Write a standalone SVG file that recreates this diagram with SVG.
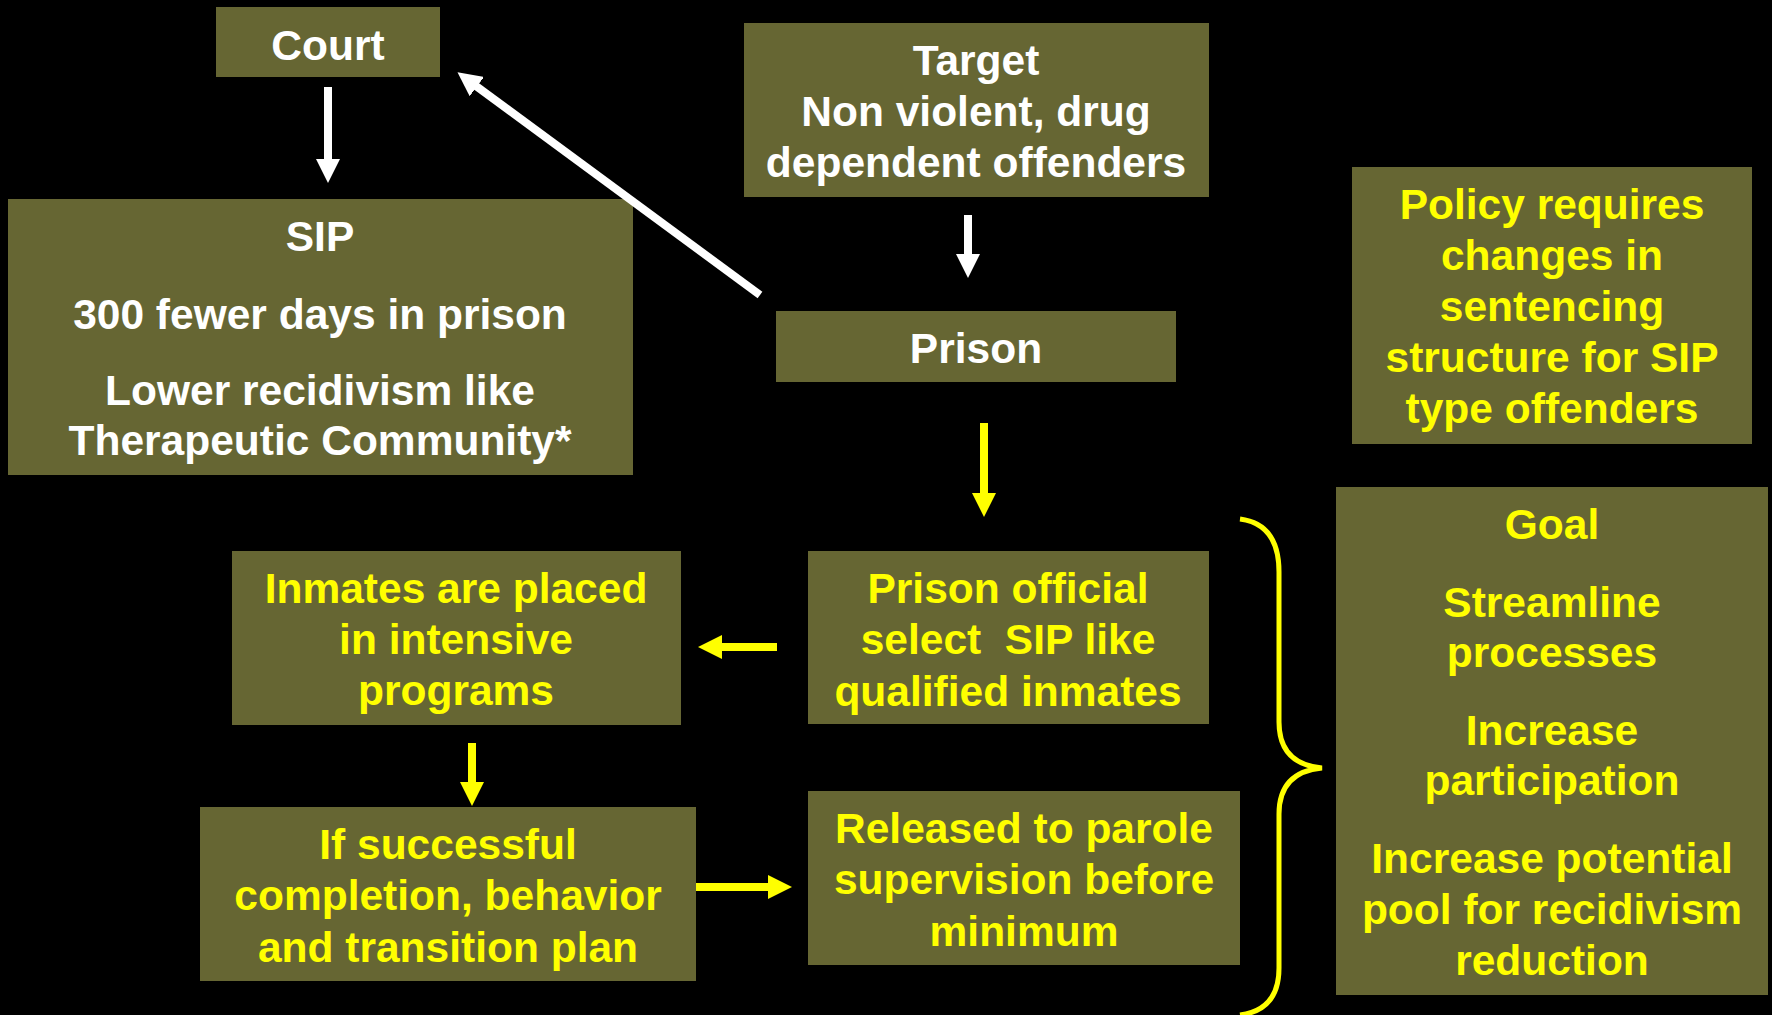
<svg xmlns="http://www.w3.org/2000/svg" width="1772" height="1015" viewBox="0 0 1772 1015">
<defs>
<style>
.box{fill:#666633}
.tw{font-family:"Liberation Sans",Arial,sans-serif;font-weight:bold;font-size:42.5px;fill:#ffffff;text-anchor:middle}
.ty{font-family:"Liberation Sans",Arial,sans-serif;font-weight:bold;font-size:42.5px;fill:#ffff00;text-anchor:middle}
.aw{stroke:#ffffff;stroke-width:8;fill:none;marker-end:url(#hw)}
.ay{stroke:#ffff00;stroke-width:8;fill:none;marker-end:url(#hy)}
</style>
<marker id="hw" markerUnits="userSpaceOnUse" markerWidth="24" markerHeight="24" refX="1" refY="12" orient="auto" viewBox="0 0 24 24"><path d="M0,0 L24,12 L0,24 Z" fill="#ffffff"/></marker>
<marker id="hy" markerUnits="userSpaceOnUse" markerWidth="24" markerHeight="24" refX="1" refY="12" orient="auto" viewBox="0 0 24 24"><path d="M0,0 L24,12 L0,24 Z" fill="#ffff00"/></marker>
</defs>
<rect width="1772" height="1015" fill="#000000"/>

<g id="court">
<rect class="box" x="216" y="7" width="224" height="70"/>
<text class="tw" x="328" y="60">Court</text>
</g>

<g id="sip">
<rect class="box" x="8" y="199" width="625" height="276"/>
<text class="tw" x="320" y="251">SIP</text>
<text class="tw" x="320" y="329">300 fewer days in prison</text>
<text class="tw" x="320" y="405">Lower recidivism like</text>
<text class="tw" x="320" y="455">Therapeutic Community*</text>
</g>

<g id="target">
<rect class="box" x="744" y="23" width="465" height="174"/>
<text class="tw" x="976" y="75">Target</text>
<text class="tw" x="976" y="126">Non violent, drug</text>
<text class="tw" x="976" y="177">dependent offenders</text>
</g>

<g id="prison">
<rect class="box" x="776" y="311" width="400" height="71"/>
<text class="tw" x="976" y="363">Prison</text>
</g>

<g id="policy">
<rect class="box" x="1352" y="167" width="400" height="277"/>
<text class="ty" x="1552" y="219">Policy requires</text>
<text class="ty" x="1552" y="270">changes in</text>
<text class="ty" x="1552" y="321">sentencing</text>
<text class="ty" x="1552" y="372">structure for SIP</text>
<text class="ty" x="1552" y="423">type offenders</text>
</g>

<g id="official">
<rect class="box" x="808" y="551" width="401" height="173"/>
<text class="ty" x="1008" y="603">Prison official</text>
<text class="ty" x="1008" y="654" style="white-space:pre">select  SIP like</text>
<text class="ty" x="1008" y="706">qualified inmates</text>
</g>

<g id="inmates">
<rect class="box" x="232" y="551" width="449" height="174"/>
<text class="ty" x="456" y="603">Inmates are placed</text>
<text class="ty" x="456" y="654">in intensive</text>
<text class="ty" x="456" y="705">programs</text>
</g>

<g id="successful">
<rect class="box" x="200" y="807" width="496" height="174"/>
<text class="ty" x="448" y="859">If successful</text>
<text class="ty" x="448" y="910">completion, behavior</text>
<text class="ty" x="448" y="962">and transition plan</text>
</g>

<g id="released">
<rect class="box" x="808" y="791" width="432" height="174"/>
<text class="ty" x="1024" y="843">Released to parole</text>
<text class="ty" x="1024" y="894">supervision before</text>
<text class="ty" x="1024" y="946">minimum</text>
</g>

<g id="goal">
<rect class="box" x="1336" y="487" width="432" height="508"/>
<text class="ty" x="1552" y="539">Goal</text>
<text class="ty" x="1552" y="617">Streamline</text>
<text class="ty" x="1552" y="667">processes</text>
<text class="ty" x="1552" y="745">Increase</text>
<text class="ty" x="1552" y="795">participation</text>
<text class="ty" x="1552" y="873">Increase potential</text>
<text class="ty" x="1552" y="924">pool for recidivism</text>
<text class="ty" x="1552" y="975">reduction</text>
</g>

<g id="connectors">
<line class="aw" x1="328" y1="87" x2="328" y2="160"/>
<line class="aw" x1="760" y1="295" x2="476" y2="86"/>
<line class="aw" x1="968" y1="215" x2="968" y2="255"/>
<line class="ay" x1="984" y1="423" x2="984" y2="494"/>
<line class="ay" x1="777" y1="647" x2="721" y2="647"/>
<line class="ay" x1="472" y1="743" x2="472" y2="783"/>
<line class="ay" x1="696" y1="887" x2="769" y2="887"/>
<path id="brace" d="M1240,519 Q1279,524 1279,572 L1279,722 Q1279,764 1322,768 Q1279,772 1279,814 L1279,968 Q1279,1010 1240,1015" fill="none" stroke="#ffff00" stroke-width="5"/>
</g>
</svg>
